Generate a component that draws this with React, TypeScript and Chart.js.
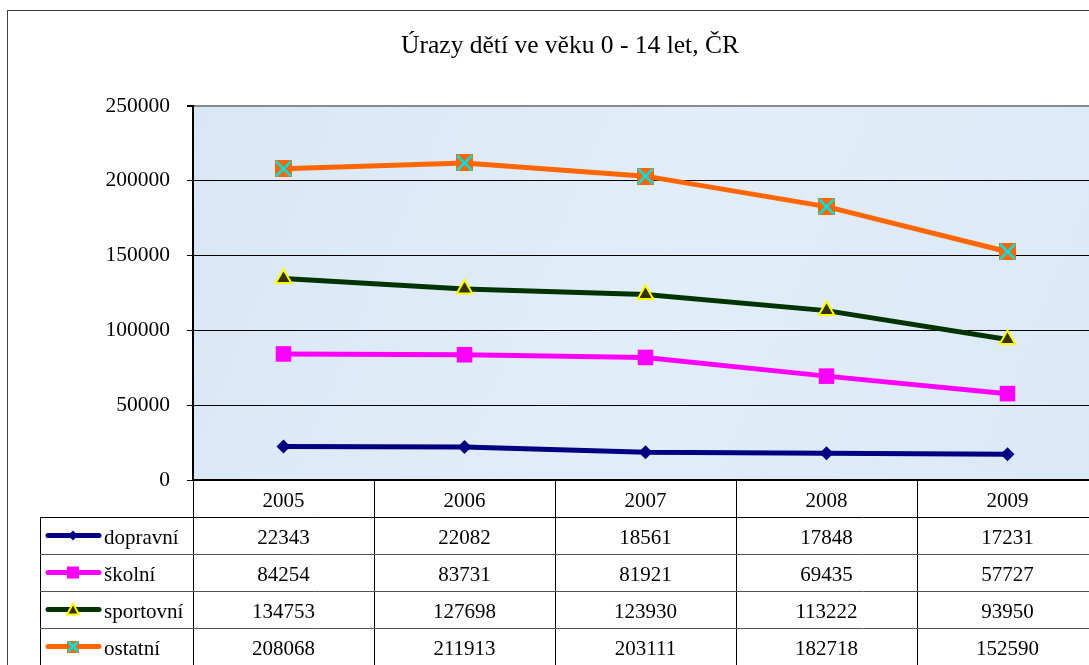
import React, { useEffect, useRef } from "react";
import { Chart, registerables } from "chart.js";

Chart.register(...registerables);

const title = "Úrazy dětí ve věku 0 - 14 let, ČR";
const years = ["2005", "2006", "2007", "2008", "2009"];
const dopravni = [22343, 22082, 18561, 17848, 17231];
const skolni = [84254, 83731, 81921, 69435, 57727];
const sportovni = [134753, 127698, 123930, 113222, 93950];
const ostatni = [208068, 211913, 203111, 182718, 152590];
const seriesNames = ["dopravní", "školní", "sportovní", "ostatní"];
const yTicks = [0, 50000, 100000, 150000, 200000, 250000];

const FONT = "'Liberation Serif', 'Times New Roman', serif";
const CW = 1140;
const CH = 700;

function makeCrossSquare(size: number): HTMLCanvasElement {
  const c = document.createElement("canvas");
  c.width = size;
  c.height = size;
  const g = c.getContext("2d")!;
  g.fillStyle = "#ff6600";
  g.fillRect(0, 0, size, size);
  g.strokeStyle = "#00e0e0";
  g.lineWidth = 2.5;
  g.beginPath();
  g.moveTo(1, 1);
  g.lineTo(size - 1, size - 1);
  g.moveTo(size - 1, 1);
  g.lineTo(1, size - 1);
  g.stroke();
  return c;
}

export default function App() {
  const ref = useRef<HTMLCanvasElement>(null);

  useEffect(() => {
    const canvas = ref.current!;
    const crossBig = makeCrossSquare(17);
    const crossSmall = makeCrossSquare(11);

    const colors = ["#000080", "#ff00ff", "#003300", "#ff6600"];

    const bgPlugin = {
      id: "bgPlugin",
      beforeDraw(chart: any) {
        const ctx = chart.ctx;
        const a = chart.chartArea;
        ctx.save();
        ctx.fillStyle = "#ffffff";
        ctx.fillRect(0, 0, CW, CH);
        ctx.strokeStyle = "#404040";
        ctx.lineWidth = 1;
        ctx.strokeRect(7.5, 10.5, 1124, 800);
        ctx.fillStyle = "#000";
        ctx.font = `25.5px ${FONT}`;
        ctx.textAlign = "center";
        ctx.textBaseline = "middle";
        ctx.fillText(title, 570, 46);
        const grd = ctx.createLinearGradient(a.left, a.top, a.right, a.bottom);
        grd.addColorStop(0, "#d9e7f5");
        grd.addColorStop(0.5, "#e1edf8");
        grd.addColorStop(1, "#dbe9f7");
        ctx.fillStyle = grd;
        ctx.fillRect(a.left, a.top, a.right - a.left, a.bottom - a.top);
        ctx.restore();
      },
    };

    const tablePlugin = {
      id: "tablePlugin",
      afterDraw(chart: any) {
        const ctx = chart.ctx;
        const a = chart.chartArea;
        const xs = chart.scales.x;
        const n = years.length;
        const colW = (a.right - a.left) / n;
        const top = a.bottom;
        const headerH = 37;
        const rowH = 37;
        const legLeft = 40;
        const bodyTop = top + headerH;
        const bottom = bodyTop + rowH * seriesNames.length + 20;
        ctx.save();
        ctx.strokeStyle = "#000";
        ctx.lineWidth = 2;
        ctx.beginPath();
        ctx.moveTo(a.left, top);
        ctx.lineTo(a.right + 40, top);
        ctx.stroke();
        ctx.lineWidth = 1;
        ctx.strokeStyle = "#000";
        for (let k = 0; k <= n; k++) {
          const x = Math.round(a.left + k * colW) + 0.5;
          ctx.beginPath();
          ctx.moveTo(x, top);
          ctx.lineTo(x, bottom);
          ctx.stroke();
        }
        ctx.beginPath();
        ctx.moveTo(legLeft + 0.5, bodyTop);
        ctx.lineTo(legLeft + 0.5, bottom);
        ctx.stroke();
        for (let r = 0; r < seriesNames.length; r++) {
          const y = Math.round(bodyTop + r * rowH) + 0.5;
          ctx.strokeStyle = r === 0 ? "#000" : "#555";
          ctx.beginPath();
          ctx.moveTo(legLeft, y);
          ctx.lineTo(a.right + 40, y);
          ctx.stroke();
        }
        ctx.fillStyle = "#000";
        ctx.font = `21px ${FONT}`;
        ctx.textAlign = "center";
        ctx.textBaseline = "middle";
        years.forEach((yr, i) => {
          ctx.fillText(yr, xs.getPixelForValue(i), top + headerH / 2 + 3);
        });
        const allData = [dopravni, skolni, sportovni, ostatni];
        allData.forEach((arr, r) => {
          const cy = bodyTop + r * rowH + rowH / 2 + 3;
          arr.forEach((v, i) => {
            ctx.textAlign = "center";
            ctx.fillText(String(v), xs.getPixelForValue(i), cy);
          });
          const ly = bodyTop + r * rowH + rowH / 2;
          ctx.strokeStyle = colors[r];
          ctx.lineWidth = 5;
          ctx.lineCap = "round";
          ctx.beginPath();
          ctx.moveTo(48, ly);
          ctx.lineTo(99, ly);
          ctx.stroke();
          ctx.lineCap = "butt";
          const mx = 73;
          if (r === 0) {
            ctx.fillStyle = "#000080";
            ctx.beginPath();
            ctx.moveTo(mx, ly - 5);
            ctx.lineTo(mx + 5, ly);
            ctx.lineTo(mx, ly + 5);
            ctx.lineTo(mx - 5, ly);
            ctx.closePath();
            ctx.fill();
          } else if (r === 1) {
            ctx.fillStyle = "#ff00ff";
            ctx.fillRect(mx - 6, ly - 6, 12, 12);
          } else if (r === 2) {
            ctx.fillStyle = "#333300";
            ctx.strokeStyle = "#ffff00";
            ctx.lineWidth = 2;
            ctx.beginPath();
            ctx.moveTo(mx, ly - 6);
            ctx.lineTo(mx + 6, ly + 5);
            ctx.lineTo(mx - 6, ly + 5);
            ctx.closePath();
            ctx.fill();
            ctx.stroke();
          } else {
            ctx.drawImage(crossSmall, mx - 6, ly - 6, 12, 12);
          }
          ctx.fillStyle = "#000";
          ctx.textAlign = "left";
          ctx.fillText(seriesNames[r], 104, cy);
        });
        ctx.restore();
      },
    };

    const chart = new Chart(canvas, {
      type: "line",
      data: {
        labels: years,
        datasets: [
          {
            label: seriesNames[0],
            data: dopravni,
            borderColor: "#000080",
            backgroundColor: "#000080",
            borderWidth: 5,
            pointStyle: "rectRot",
            pointRadius: 7,
            pointBorderWidth: 0,
            pointBackgroundColor: "#000080",
          },
          {
            label: seriesNames[1],
            data: skolni,
            borderColor: "#ff00ff",
            backgroundColor: "#ff00ff",
            borderWidth: 5,
            pointStyle: "rect",
            pointRadius: 11,
            pointBorderWidth: 0,
            pointBackgroundColor: "#ff00ff",
          },
          {
            label: seriesNames[2],
            data: sportovni,
            borderColor: "#003300",
            backgroundColor: "#333300",
            borderWidth: 5,
            pointStyle: "triangle",
            pointRadius: 9,
            pointBorderWidth: 2,
            pointBorderColor: "#ffff00",
            pointBackgroundColor: "#333300",
          },
          {
            label: seriesNames[3],
            data: ostatni,
            borderColor: "#ff6600",
            backgroundColor: "#ff6600",
            borderWidth: 5,
            pointStyle: crossBig,
            pointRadius: 9,
          },
        ],
      },
      options: {
        responsive: false,
        animation: false,
        devicePixelRatio: 1,
        events: [],
        layout: { padding: { left: 0, top: 106, right: CW - 1098, bottom: CH - 480 } },
        plugins: {
          legend: { display: false },
          title: { display: false },
          tooltip: { enabled: false },
        },
        scales: {
          x: {
            type: "category",
            display: false,
            offset: true,
          },
          y: {
            min: 0,
            max: 250000,
            afterFit: (s: any) => {
              s.width = 193;
            },
            afterBuildTicks: (s: any) => {
              s.ticks = yTicks.map((v) => ({ value: v }));
            },
            border: { display: true, color: "#000", width: 2 },
            grid: {
              color: (c: any) => (c.tick && c.tick.value === 250000 ? "#8a8a8a" : "#000"),
              lineWidth: (c: any) => (c.tick && c.tick.value === 250000 ? 2 : 1),
              tickLength: 6,
              tickColor: "#000",
            },
            ticks: {
              color: "#000",
              font: { family: FONT, size: 21.5 },
              padding: 17,
              callback: (v: any) => String(v),
            },
          },
        },
      },
      plugins: [bgPlugin, tablePlugin],
    });
    return () => chart.destroy();
  }, []);

  return (
    <div
      style={{
        position: "absolute",
        left: 0,
        top: 0,
        width: 1089,
        height: 665,
        overflow: "hidden",
        background: "#fff",
      }}
    >
      <canvas ref={ref} width={CW} height={CH} style={{ width: CW, height: CH, display: "block" }} />
    </div>
  );
}
